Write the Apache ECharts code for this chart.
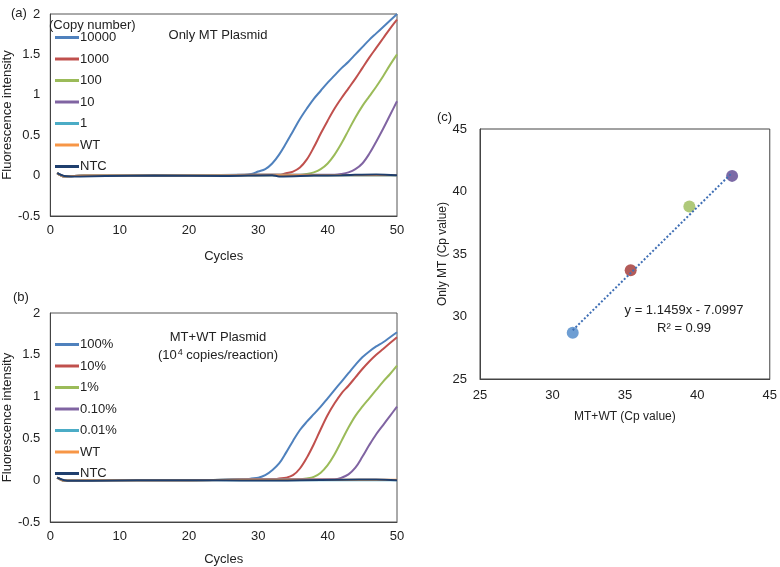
<!DOCTYPE html>
<html>
<head>
<meta charset="utf-8">
<script src="https://cdn.jsdelivr.net/npm/echarts@6/dist/echarts.min.js"></script>
<style>
  html, body { margin: 0; padding: 0; background: #fff; }
  #chart { width: 780px; height: 567px; }
</style>
</head>
<body>
<div id="chart"></div>
<script>
// panel (a): only MT plasmid, copy number dilution  [cycle, fluorescence]
const copyNames = ['10000', '1000', '100', '10', '1', 'WT', 'NTC'];
const mt10000 = [[1,0.03],[2,-0.01],[5,0],[10,0],[20,0],[27,0.01],[28,0.01],[29,0.02],[30,0.05],[31,0.08],[32,0.15],[33,0.26],[34,0.4],[35,0.55],[36,0.7],[37,0.83],[38,0.95],[39,1.05],[40,1.15],[41,1.24],[42,1.33],[43,1.41],[44,1.5],[45,1.59],[46,1.68],[47,1.76],[48,1.84],[49,1.92],[50,2.0]];
const mt1000 = [[1,0.03],[2,-0.01],[5,0],[10,0],[20,0],[30,0.01],[33,0.01],[34,0.03],[35,0.05],[36,0.1],[37,0.2],[38,0.35],[39,0.52],[40,0.68],[41,0.83],[42,0.96],[43,1.08],[44,1.2],[45,1.33],[46,1.46],[47,1.58],[48,1.7],[49,1.82],[50,1.93]];
const mt100 = [[1,0.03],[2,-0.01],[5,0],[10,0],[20,0],[30,0.01],[36,0.01],[37,0.02],[38,0.04],[39,0.08],[40,0.15],[41,0.26],[42,0.4],[43,0.56],[44,0.72],[45,0.86],[46,0.98],[47,1.1],[48,1.23],[49,1.37],[50,1.5]];
const mt10 = [[1,0.03],[2,-0.01],[5,0],[10,0],[20,0],[30,0.01],[41,0.01],[42,0.02],[43,0.04],[44,0.08],[45,0.15],[46,0.27],[47,0.42],[48,0.58],[49,0.75],[50,0.92]];
const mt1 = [[1,0.03],[2,-0.01],[5,0],[10,0],[20,0],[30,0],[40,0],[50,0]];
const mtWT = [[1,0.03],[2,-0.01],[5,0],[10,0],[20,0],[30,0.005],[40,0.005],[50,0.005]];
const mtNTC = [[1,0.03],[2,-0.005],[3,-0.01],[8,-0.005],[15,0],[25,-0.005],[32,0.005],[33,-0.01],[38,0],[42,0.005],[47,0.015],[50,0.005]];

// panel (b): MT+WT plasmid, MT fraction
const fracNames = ['100%', '10%', '1%', '0.10%', '0.01%', 'WT', 'NTC'];
const mix100 = [[1,0.03],[2,-0.005],[5,0],[10,0],[20,0],[28,0.01],[29,0.02],[30,0.03],[31,0.06],[32,0.12],[33,0.2],[34,0.33],[35,0.47],[36,0.6],[37,0.7],[38,0.79],[39,0.88],[40,0.98],[41,1.08],[42,1.18],[43,1.28],[44,1.38],[45,1.47],[46,1.54],[47,1.6],[48,1.65],[49,1.71],[50,1.77]];
const mix10 = [[1,0.03],[2,-0.005],[5,0],[10,0],[20,0],[32,0.01],[33,0.02],[34,0.03],[35,0.06],[36,0.14],[37,0.27],[38,0.43],[39,0.61],[40,0.78],[41,0.92],[42,1.04],[43,1.13],[44,1.23],[45,1.33],[46,1.42],[47,1.5],[48,1.57],[49,1.64],[50,1.71]];
const mix1 = [[1,0.03],[2,-0.005],[5,0],[10,0],[20,0],[30,0.01],[36,0.01],[37,0.02],[38,0.04],[39,0.09],[40,0.18],[41,0.31],[42,0.47],[43,0.63],[44,0.77],[45,0.88],[46,0.98],[47,1.08],[48,1.18],[49,1.27],[50,1.37]];
const mix01 = [[1,0.03],[2,-0.005],[5,0],[10,0],[20,0],[30,0.01],[40,0.01],[41,0.01],[42,0.03],[43,0.07],[44,0.15],[45,0.28],[46,0.42],[47,0.55],[48,0.66],[49,0.77],[50,0.88]];
const mix001 = [[1,0.03],[2,-0.005],[5,0],[10,0],[20,0],[30,0],[40,0],[50,0]];
const mixWT = [[1,0.03],[2,-0.005],[5,0],[10,0],[20,0],[30,0.005],[40,0.005],[50,0.005]];
const mixNTC = [[1,0.03],[2,0],[3,-0.008],[9,-0.005],[16,0],[24,0],[31,-0.005],[36,0],[42,0.005],[47,0.008],[50,0]];

// panel (c): Cp values [MT+WT, only MT]
const cpPoints = [[31.4, 28.7], [35.4, 33.7], [39.45, 38.8], [42.4, 41.25]];
const cpColors = ['#4a86c8', '#a0322f', '#9bbb59', '#5b4590'];
const trendLine = [[31.4, 28.9], [42.4, 41.5]];

const lineColors = ['#4f81bd', '#c0504d', '#9bbb59', '#8064a2', '#4bacc6', '#f79646', '#1f3f6e'];
const font = 'Liberation Sans, Arial, sans-serif';

const chart = echarts.init(document.getElementById('chart'));

function curveSeries(names, datasets, axisIndex) {
  return datasets.map((d, i) => ({
    name: names[i],
    type: 'line',
    xAxisIndex: axisIndex,
    yAxisIndex: axisIndex,
    data: d,
    smooth: 0.35,
    showSymbol: false,
    lineStyle: { width: 2, color: lineColors[i] },
    itemStyle: { color: lineColors[i] }
  }));
}

function curveLegend(names, top) {
  return {
    data: names.map(n => ({ name: n, icon: 'rect' })),
    orient: 'vertical',
    left: 50,
    top: top,
    itemWidth: 24,
    itemHeight: 3,
    itemGap: 8.5,
    selectedMode: false,
    textStyle: { fontFamily: font, fontSize: 13, color: '#222', padding: [0, 0, 0, -4] }
  };
}

const xCycles = (gridIndex, gap) => ({
  type: 'value', gridIndex: gridIndex, min: 0, max: 50, interval: 10,
  name: 'Cycles', nameLocation: 'middle', nameGap: gap,
  nameTextStyle: { fontFamily: font, fontSize: 13, color: '#222' },
  axisLine: { onZero: false, lineStyle: { color: '#444' } },
  axisTick: { show: false },
  axisLabel: { fontFamily: font, fontSize: 13, color: '#222', margin: 8 },
  splitLine: { show: false }
});

const yFluor = (gridIndex, gap) => ({
  type: 'value', gridIndex: gridIndex, min: -0.5, max: 2, interval: 0.5,
  name: 'Fluorescence intensity', nameLocation: 'middle', nameGap: gap,
  nameTextStyle: { fontFamily: font, fontSize: 13, color: '#222' },
  axisLine: { show: true, lineStyle: { color: '#444' } },
  axisTick: { show: false },
  axisLabel: { fontFamily: font, fontSize: 13, color: '#222', margin: 10 },
  splitLine: { show: false }
});

const plain = { fontFamily: font, fontSize: 13, fontWeight: 'normal', color: '#222' };

const option = {
  animation: false,
  backgroundColor: '#fff',
  grid: [
    { left: 44, top: 14, width: 353, height: 202, show: true, borderColor: '#555', borderWidth: 1 },
    { left: 42, top: 313, width: 355, height: 210, show: true, borderColor: '#555', borderWidth: 1 },
    { left: 480, top: 129, width: 293, height: 250, show: true, borderColor: '#444', borderWidth: 1 }
  ],
  title: [
    { text: '(a)', left: 6, top: 2, textStyle: plain },
    { text: '(b)', left: 8, top: 286, textStyle: plain },
    { text: '(c)', left: 432, top: 106, textStyle: plain },
    { text: 'Only MT Plasmid', left: 213, top: 24, textAlign: 'center', textStyle: plain },
    { text: '(Copy number)', left: 44, top: 14, textStyle: plain },
    { text: 'MT+WT Plasmid', left: 213, top: 326, textAlign: 'center', textStyle: plain },
    {
      text: '({a|10}{s|4} copies/reaction)', left: 213, top: 343, textAlign: 'center',
      textStyle: {
        ...plain,
        rich: {
          a: { fontFamily: font, fontSize: 13, color: '#222' },
          s: { fontFamily: font, fontSize: 9, color: '#222', verticalAlign: 'top', padding: [0, 0, 6, 1] }
        }
      }
    },
    { text: 'y = 1.1459x - 7.0997', left: 679, top: 299, textAlign: 'center', textStyle: plain },
    { text: 'R² = 0.99', left: 679, top: 317, textAlign: 'center', textStyle: plain }
  ],
  legend: [
    curveLegend(copyNames, 26),
    curveLegend(fracNames, 333)
  ],
  xAxis: [
    xCycles(0, 34),
    xCycles(1, 31),
    {
      type: 'value', gridIndex: 2, min: 25, max: 45, interval: 5,
      name: 'MT+WT (Cp value)', nameLocation: 'middle', nameGap: 32,
      nameTextStyle: { fontFamily: font, fontSize: 12, color: '#222' },
      axisLine: { onZero: false, lineStyle: { color: '#444' } },
      axisTick: { show: false },
      axisLabel: { fontFamily: font, fontSize: 13, color: '#222', margin: 10 },
      splitLine: { show: false }
    }
  ],
  yAxis: [
    yFluor(0, 31),
    yFluor(1, 29),
    {
      type: 'value', gridIndex: 2, min: 25, max: 45, interval: 5,
      name: 'Only MT (Cp value)', nameLocation: 'middle', nameGap: 29,
      nameTextStyle: { fontFamily: font, fontSize: 12, color: '#222' },
      axisLine: { show: true, lineStyle: { color: '#444' } },
      axisTick: { show: false },
      axisLabel: { fontFamily: font, fontSize: 13, color: '#222', margin: 13 },
      splitLine: { show: false }
    }
  ],
  series: [
    ...curveSeries(copyNames, [mt10000, mt1000, mt100, mt10, mt1, mtWT, mtNTC], 0),
    ...curveSeries(fracNames, [mix100, mix10, mix1, mix01, mix001, mixWT, mixNTC], 1),
    {
      type: 'line',
      xAxisIndex: 2, yAxisIndex: 2,
      data: trendLine,
      showSymbol: false,
      lineStyle: { color: '#3f6fb5', width: 2, type: [2, 2] }
    },
    {
      type: 'scatter',
      xAxisIndex: 2, yAxisIndex: 2,
      symbolSize: 12,
      data: cpPoints.map((p, i) => ({ value: p, itemStyle: { color: cpColors[i] } }))
    }
  ]
};

chart.setOption(option);
</script>
</body>
</html>
